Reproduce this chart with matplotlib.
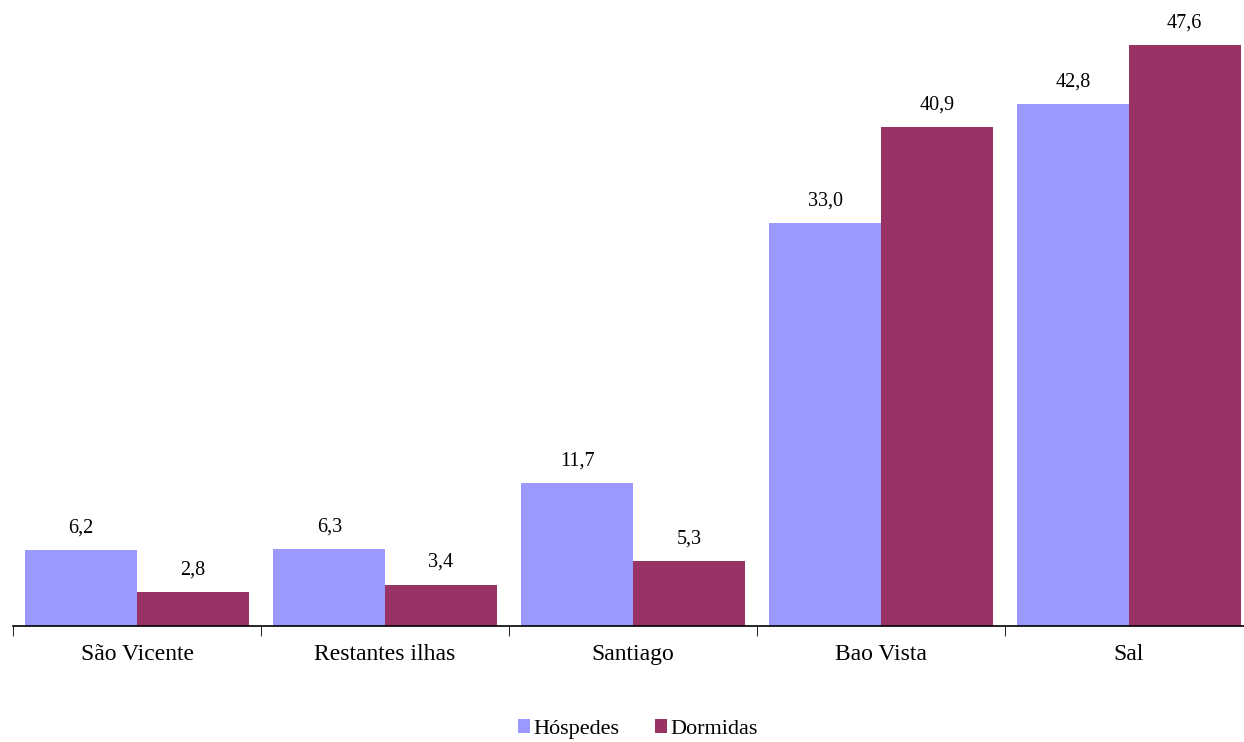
import numpy as np
import matplotlib.pyplot as plt

ilhas = ["São Vicente", "Restantes ilhas", "Santiago", "Bao Vista", "Sal"]
hospedes = [6.2, 6.3, 11.7, 33.0, 42.8]
dormidas = [2.8, 3.4, 5.3, 40.9, 47.6]

plt.rcParams["font.family"] = ["Liberation Serif", "DejaVu Serif"]

fig = plt.figure(figsize=(12.44, 7.42), dpi=100)
ax = fig.add_axes([13 / 1244, 116 / 742, 1240 / 1244, 626 / 742])

x = np.arange(len(ilhas))
w = 0.45
b1 = ax.bar(x - w / 2, hospedes, w, color="#9999FF", label="Hóspedes")
b2 = ax.bar(x + w / 2, dormidas, w, color="#993366", label="Dormidas")

fmt = lambda v: f"{v:.1f}".replace(".", ",")
for bars, vals in ((b1, hospedes), (b2, dormidas)):
    for r, v in zip(bars, vals):
        ax.annotate(fmt(v), (r.get_x() + r.get_width() / 2, v),
                    xytext=(0, 9), textcoords="offset points",
                    ha="center", va="bottom", fontsize=14.5)

ax.set_xlim(-0.5, len(ilhas) - 0.5)
ax.set_ylim(0, 51.3)
ax.set_xticks(x)
ax.set_xticklabels(ilhas, fontsize=17)
ax.set_xticks(np.arange(len(ilhas) + 1) - 0.5, minor=True)
ax.tick_params(axis="x", which="major", length=0, pad=13)
ax.tick_params(axis="x", which="minor", length=7, direction="out")
ax.set_yticks([])
for s in ("top", "right", "left"):
    ax.spines[s].set_visible(False)
ax.spines["bottom"].set_linewidth(1.2)

fig.legend(loc="lower center", bbox_to_anchor=(638 / 1244, 0.0), ncol=2, frameon=False,
           fontsize=16, handlelength=0.55, handleheight=0.55, handletextpad=0.15,
           columnspacing=1.6, borderaxespad=0.0, borderpad=0.15)

fig.savefig("out.png", dpi=100)
